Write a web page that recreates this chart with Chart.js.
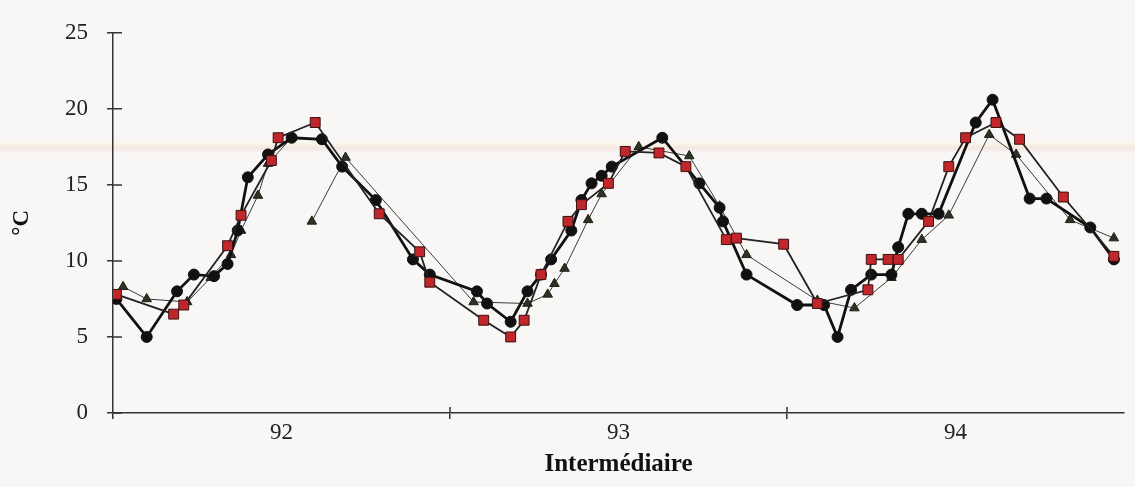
<!DOCTYPE html>
<html>
<head>
<meta charset="utf-8">
<script src="https://cdn.jsdelivr.net/npm/chart.js@4.4.0/dist/chart.umd.min.js"></script>
<style>
  html, body { margin: 0; padding: 0; }
  body { width: 1135px; height: 487px; background: #f9f7f5; position: relative; overflow: hidden; }
  .band { position: absolute; left: 0; right: 0; top: 141px; height: 12px;
    background: linear-gradient(to bottom, rgba(249,247,245,0) 0%, rgba(246,236,205,0.45) 35%,
      rgba(242,214,208,0.5) 60%, rgba(249,247,245,0) 100%); }
  #c { position: absolute; left: 0; top: 0; }
</style>
</head>
<body>
<div class="band"></div>
<canvas id="c" width="1135" height="487"></canvas>
<script>
// Sampling dates as decimal years (92.0 = start of 1992), temperatures in °C
const circleYears = [92.01, 92.10, 92.19, 92.24, 92.30, 92.34, 92.37, 92.40, 92.46, 92.53,
  92.62, 92.68, 92.78, 92.89, 92.94, 93.08, 93.11, 93.18, 93.23, 93.27,
  93.30, 93.36, 93.39, 93.42, 93.45, 93.48, 93.63, 93.74, 93.80, 93.81,
  93.88, 94.03, 94.11, 94.15, 94.19, 94.25, 94.31, 94.33, 94.36, 94.40,
  94.45, 94.56, 94.61, 94.72, 94.77, 94.90, 94.97];
const circleTemps = [7.5, 5.0, 8.0, 9.1, 9.0, 9.8, 12.0, 15.5, 17.0, 18.1,
  18.0, 16.2, 14.0, 10.1, 9.1, 8.0, 7.2, 6.0, 8.0, 9.1,
  10.1, 12.0, 14.0, 15.1, 15.6, 16.2, 18.1, 15.1, 13.5, 12.6,
  9.1, 7.1, 7.1, 5.0, 8.1, 9.1, 9.1, 10.9, 13.1, 13.1,
  13.1, 19.1, 20.6, 14.1, 14.1, 12.2, 10.1];

const squareYears = [92.01, 92.18, 92.21, 92.34, 92.38, 92.47, 92.49, 92.60, 92.79, 92.91,
  92.94, 93.10, 93.18, 93.22, 93.27, 93.35, 93.39, 93.47, 93.52, 93.62,
  93.70, 93.82, 93.85, 93.99, 94.09, 94.24, 94.25, 94.30, 94.33, 94.42,
  94.48, 94.53, 94.62, 94.69, 94.82, 94.97];
const squareTemps = [7.8, 6.5, 7.1, 11.0, 13.0, 16.6, 18.1, 19.1, 13.1, 10.6,
  8.6, 6.1, 5.0, 6.1, 9.1, 12.6, 13.7, 15.1, 17.2, 17.1,
  16.2, 11.4, 11.5, 11.1, 7.2, 8.1, 10.1, 10.1, 10.1, 12.6,
  16.2, 18.1, 19.1, 18.0, 14.2, 10.3];

// null marks a break in the record
const triangleYears = [92.03, 92.10, 92.22, 92.29, 92.35, 92.38, 92.43, 92.46, 92.53, 92.56,
  92.59, 92.69, 93.07, 93.23, 93.29, 93.31, 93.34, 93.41, 93.45, 93.56,
  93.71, 93.80, 93.88, 94.09, 94.20, 94.31, 94.40, 94.48, 94.60, 94.68,
  94.84, 94.97];
const triangleTemps = [8.3, 7.5, 7.3, 8.9, 10.4, 12.0, 14.3, 16.4, 18.1, null,
  12.6, 16.8, 7.3, 7.2, 7.8, 8.5, 9.5, 12.7, 14.4, 17.5,
  16.9, 13.6, 10.4, 7.4, 6.9, 8.9, 11.4, 13.0, 18.3, 17.0,
  12.7, 11.5];

// Year labels sit mid-year; year boundaries carry the tick marks
const yearLabels = { 92.5: '92', 93.5: '93', 94.5: '94' };
const tempTicks = [0, 5, 10, 15, 20, 25];

const toPoints = (xs, ys) => xs.map((x, i) => ({ x, y: ys[i] }));

const AXIS = '#333';
const SERIF = '"Liberation Serif", "DejaVu Serif", serif';

// Tick marks that cross the axis lines (inner half)
const crossTicks = {
  id: 'crossTicks',
  afterDraw(chart) {
    const { ctx, scales: { x, y } } = chart;
    ctx.save();
    ctx.strokeStyle = AXIS;
    ctx.lineWidth = 1.5;
    ctx.beginPath();
    y.ticks.forEach(t => {
      const py = y.getPixelForValue(t.value);
      ctx.moveTo(x.left, py);
      ctx.lineTo(x.left + 9, py);
    });
    x.ticks.forEach(t => {
      if (Number.isInteger(t.value) && t.value > x.min && t.value < x.max) {
        const px = x.getPixelForValue(t.value);
        ctx.moveTo(px, y.bottom);
        ctx.lineTo(px, y.bottom - 6);
      }
    });
    ctx.stroke();
    ctx.restore();
  }
};

new Chart(document.getElementById('c'), {
  type: 'scatter',
  data: {
    datasets: [
      {
        data: toPoints(squareYears, squareTemps),
        showLine: true,
        borderColor: '#222',
        borderWidth: 1.8,
        pointStyle: 'rect',
        pointRadius: 7,
        pointBackgroundColor: '#c0262a',
        pointBorderColor: '#3a1212',
        pointBorderWidth: 1
      },
      {
        data: toPoints(circleYears, circleTemps),
        showLine: true,
        borderColor: '#111',
        borderWidth: 2.8,
        pointStyle: 'circle',
        pointRadius: 5.5,
        pointBackgroundColor: '#111',
        pointBorderColor: '#111',
        pointBorderWidth: 1
      },
      {
        data: toPoints(triangleYears, triangleTemps),
        showLine: true,
        spanGaps: false,
        borderColor: '#3a3a3a',
        borderWidth: 1,
        pointStyle: 'triangle',
        pointRadius: 5.5,
        pointBackgroundColor: '#2b3322',
        pointBorderColor: '#1c2116',
        pointBorderWidth: 1
      }
    ]
  },
  options: {
    responsive: false,
    animation: false,
    layout: { padding: { left: 0, right: 11, top: 28, bottom: 0 } },
    plugins: { legend: { display: false }, tooltip: { enabled: false } },
    scales: {
      x: {
        type: 'linear',
        min: 92,
        max: 95,
        afterFit: s => { s.height = 74; },
        afterBuildTicks: s => {
          s.ticks = [];
          for (let v = 92; v <= 95; v += 0.5) s.ticks.push({ value: v });
        },
        ticks: {
          autoSkip: false,
          maxRotation: 0,
          padding: 0,
          color: '#222',
          font: { family: SERIF, size: 23 },
          callback: v => yearLabels[v] || ''
        },
        grid: {
          drawOnChartArea: false,
          tickLength: 6,
          lineWidth: 1.5,
          color: c => (c.tick && Number.isInteger(c.tick.value) && c.tick.value < 95) ? AXIS : 'rgba(0,0,0,0)'
        },
        border: { display: true, color: AXIS, width: 1.5 },
        title: {
          display: true,
          text: 'Intermédiaire',
          color: '#111',
          font: { family: SERIF, size: 25, weight: 'bold' },
          padding: { top: 0, bottom: 7 }
        }
      },
      y: {
        min: 0,
        max: 25,
        afterFit: s => { s.width = 113; },
        afterBuildTicks: s => { s.ticks = tempTicks.map(v => ({ value: v })); },
        ticks: {
          padding: 19,
          color: '#222',
          font: { family: SERIF, size: 23 }
        },
        grid: {
          drawOnChartArea: false,
          tickLength: 6,
          lineWidth: 1.5,
          color: AXIS
        },
        border: { display: true, color: AXIS, width: 1.5 },
        title: {
          display: true,
          text: '°C',
          color: '#111',
          font: { family: SERIF, size: 23, weight: 'bold' },
          padding: { top: 8, bottom: 0 }
        }
      }
    }
  },
  plugins: [crossTicks]
});
</script>
</body>
</html>
